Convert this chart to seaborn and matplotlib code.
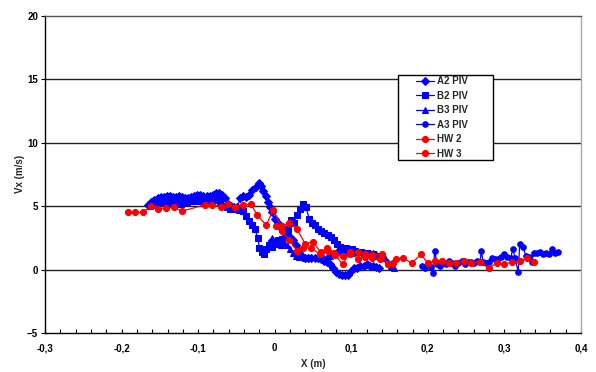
import matplotlib
matplotlib.use("Agg")
import matplotlib.pyplot as plt
import seaborn as sns
from matplotlib.ticker import MultipleLocator, FuncFormatter
from matplotlib.patches import Rectangle

# ---------------- data ----------------
a2_x = [-0.165, -0.161, -0.157, -0.153, -0.149, -0.145, -0.141, -0.137, -0.133, -0.129,
        -0.125, -0.121, -0.117, -0.113, -0.109, -0.105, -0.101, -0.097, -0.093, -0.089,
        -0.085, -0.081, -0.077, -0.073, -0.069, -0.065, -0.061, -0.057, -0.053, -0.049,
        -0.045, -0.041, -0.037, -0.033, -0.029, -0.025, -0.021, -0.018, -0.015, -0.012,
        -0.009, -0.006, -0.003, 0.000, 0.004, 0.008, 0.012, 0.016, 0.020, 0.024,
        0.028, 0.032, 0.036, 0.040, 0.044, 0.048, 0.052, 0.056, 0.060, 0.064,
        0.068, 0.072, 0.076, 0.080, 0.084, 0.088, 0.092, 0.096, 0.100, 0.104,
        0.108, 0.112, 0.116, 0.120, 0.124, 0.128, 0.132, 0.136]
a2_y = [5.1, 5.3, 5.5, 5.6, 5.7, 5.7, 5.8, 5.8, 5.7, 5.7,
        5.8, 5.7, 5.6, 5.6, 5.7, 5.8, 5.9, 5.9, 5.8, 5.8,
        5.8, 5.9, 6.0, 6.0, 5.9, 5.6, 5.2, 5.0, 4.9, 4.9,
        5.6, 5.8, 5.7, 5.9, 6.3, 6.5, 6.8, 6.6, 6.2, 5.8,
        5.3, 4.9, 4.5, 4.0, 3.7, 3.3, 3.1, 2.9, 2.6, 2.3,
        1.9, 1.5, 1.1, 0.9, 0.9, 0.9, 0.9, 0.9, 0.8, 0.7,
        0.6, 0.4, 0.1, -0.2, -0.35, -0.4, -0.45, -0.4, -0.1, 0.1,
        0.1, 0.3, 0.3, 0.4, 0.3, 0.3, 0.2, 0.1]

b2_x = [-0.163, -0.159, -0.155, -0.151, -0.147, -0.143, -0.139, -0.135, -0.131, -0.127,
        -0.123, -0.119, -0.115, -0.111, -0.107, -0.103, -0.099, -0.095, -0.091, -0.087,
        -0.083, -0.079, -0.075, -0.071, -0.067,
        -0.062, -0.058, -0.054, -0.050, -0.046, -0.042, -0.038, -0.034, -0.030, -0.026,
        -0.022, -0.020, -0.017, -0.014, -0.011, -0.007, -0.003, 0.001, 0.005, 0.009,
        0.013, 0.017, 0.021, 0.025, 0.029, 0.033, 0.037, 0.041, 0.045, 0.049,
        0.053, 0.057, 0.061, 0.065, 0.069, 0.073, 0.077, 0.081, 0.085, 0.089,
        0.093, 0.097, 0.101, 0.105, 0.109, 0.113, 0.117, 0.121, 0.125, 0.129,
        0.133, 0.137]
b2_y = [5.0, 5.1, 5.2, 5.3, 5.3, 5.4, 5.4, 5.3, 5.3, 5.3,
        5.2, 5.3, 5.3, 5.4, 5.4, 5.5, 5.4, 5.4, 5.4, 5.5,
        5.6, 5.6, 5.5, 5.3, 5.0,
        4.9, 4.8, 4.8, 4.8, 4.7, 4.6, 4.2, 3.8, 3.5, 3.2,
        2.5, 1.7, 1.4, 1.2, 1.6, 1.9, 1.8, 2.1, 2.3, 2.4,
        2.6, 3.2, 3.9, 3.7, 4.3, 4.8, 5.15, 4.9, 4.0, 3.7,
        3.5, 3.2, 3.0, 2.9, 2.7, 2.6, 2.3, 2.0, 1.8, 1.7,
        1.7, 1.6, 1.6, 1.5, 1.4, 1.4, 1.3, 1.3, 1.2, 1.2,
        1.1, 1.1]

b3_x = [-0.008, -0.004, 0.000, 0.004, 0.008, 0.012, 0.016, 0.020, 0.024, 0.028,
        0.032, 0.036, 0.040, 0.044, 0.048, 0.052, 0.056, 0.060, 0.064, 0.068,
        0.072, 0.076, 0.080, 0.084, 0.088, 0.092, 0.096, 0.100, 0.104, 0.108,
        0.112, 0.116, 0.120, 0.124, 0.128, 0.132, 0.136, 0.140, 0.144, 0.148,
        0.152, 0.156]
b3_y = [2.2, 2.5, 2.3, 2.0, 1.9, 2.1, 1.9, 1.6, 1.3, 1.1,
        1.0, 1.0, 0.9, 1.0, 1.0, 0.95, 1.0, 0.9, 0.9, 1.0,
        1.1, 1.3, 1.4, 1.5, 1.5, 1.4, 1.4, 1.3, 1.4, 1.5,
        1.4, 1.3, 1.3, 1.2, 1.3, 1.2, 1.1, 1.0, 0.9, 0.6,
        0.3, 0.1]

a3_x = [0.192, 0.196, 0.200, 0.204, 0.207, 0.209, 0.212, 0.216, 0.220, 0.224,
        0.228, 0.232, 0.236, 0.240, 0.244, 0.248, 0.252, 0.256, 0.260, 0.264,
        0.268, 0.270, 0.272, 0.276, 0.280, 0.284, 0.288, 0.292, 0.296, 0.300,
        0.304, 0.308, 0.311, 0.314, 0.318, 0.320, 0.324, 0.328, 0.332, 0.336,
        0.338, 0.342, 0.346, 0.350, 0.354, 0.358, 0.362, 0.366, 0.370]
a3_y = [0.3, 0.1, 0.4, 0.2, -0.25, 1.5, 0.4, 0.3, 0.6, 0.4,
        0.7, 0.5, 0.3, 0.5, 0.7, 0.4, 0.6, 0.6, 0.5, 0.7,
        0.6, 1.45, 0.6, 0.5, 0.6, 0.9, 0.8, 0.8, 1.0, 1.2,
        1.0, 0.9, 1.6, 0.9, -0.2, 2.0, 1.8, 1.1, 1.0, 0.6,
        1.3, 1.3, 1.4, 1.2, 1.3, 1.2, 1.6, 1.3, 1.4]

hw2_x = [-0.192, -0.182, -0.172, -0.162, -0.152, -0.142, -0.132, -0.121, -0.091, -0.082,
         -0.070, -0.061, -0.052, -0.041, -0.031, -0.023, -0.011, -0.002, 0.009, 0.019,
         0.029, 0.040, 0.050, 0.060, 0.070, 0.079, 0.089, 0.098, 0.109, 0.118,
         0.127, 0.140, 0.148, 0.158, 0.168, 0.179, 0.191, 0.200, 0.209, 0.218,
         0.227, 0.237, 0.247, 0.257, 0.268, 0.280, 0.290, 0.299, 0.310, 0.320,
         0.329, 0.338]
hw2_y = [4.5, 4.5, 4.5, 5.0, 4.8, 4.85, 4.9, 4.6, 5.1, 5.1,
         4.95, 5.2, 4.9, 5.1, 5.15, 4.3, 3.5, 4.7, 3.4, 3.7,
         3.2, 2.0, 2.2, 1.35, 1.5, 1.15, 1.1, 1.2, 1.4, 1.2,
         1.15, 1.2, 0.45, 0.85, 0.9, 0.5, 1.2, 0.5, 0.7, 0.7,
         0.5, 0.5, 0.65, 0.55, 0.6, 0.15, 0.5, 0.4, 0.6, 0.65,
         0.9, 0.6]

hw3_x = [0.002, 0.009, 0.019, 0.029, 0.037, 0.048, 0.059, 0.068, 0.077, 0.089,
         0.098, 0.109, 0.118, 0.127, 0.138, 0.148, 0.155]
hw3_y = [3.4, 3.0, 2.35, 1.5, 1.7, 1.7, 1.2, 1.7, 1.3, 0.4,
         1.4, 0.85, 1.0, 0.9, 0.8, 0.45, 0.5]

x_ticks = [-0.3, -0.2, -0.1, 0.0, 0.1, 0.2, 0.3, 0.4]
y_ticks = [-5, 0, 5, 10, 15, 20]

# ---------------- style ----------------
sns.set_style("white")
plt.rcParams['font.family'] = ['Liberation Sans', 'DejaVu Sans']

fig = plt.figure(figsize=(5.96, 3.72), dpi=100)
ax = fig.add_axes([0.0755, 1 - 333 / 372, 0.8993, (333 - 15.7) / 372])

for yv in [0, 5, 10, 15]:
    ax.axhline(yv, color='#222222', lw=1.0, zorder=1)

blue = '#0000FF'
red = '#FF0000'
series = [
    (a2_x, a2_y, 'A2 PIV', blue, 'D', 4.0),
    (b2_x, b2_y, 'B2 PIV', blue, 's', 4.0),
    (b3_x, b3_y, 'B3 PIV', blue, '^', 4.4),
    (a3_x, a3_y, 'A3 PIV', blue, 'o', 4.0),
    (hw2_x, hw2_y, 'HW 2', red, 'o', 4.4),
    (hw3_x, hw3_y, 'HW 3', red, 'o', 4.4),
]
for xs, ys, lab, col, mk, ms in series:
    sns.lineplot(x=xs, y=ys, ax=ax, sort=False, estimator=None, label=lab,
                 color=col, marker=mk, markersize=ms, markeredgecolor=col,
                 markerfacecolor=col, linewidth=0.9, zorder=3)

ax.set_xlim(-0.3, 0.4)
ax.set_ylim(-5, 20)
ax.set_xticks(x_ticks)
ax.set_yticks(y_ticks)
ax.xaxis.set_minor_locator(MultipleLocator(0.02))

def fmt_x(v, pos):
    if abs(v) < 1e-9:
        return '0'
    return ('%.1f' % v).replace('.', ',')

ax.xaxis.set_major_formatter(FuncFormatter(fmt_x))
ax.tick_params(axis='y', which='major', direction='out', length=3, width=0.8,
               labelsize=7, colors='black', pad=2, left=True)
ax.tick_params(axis='x', which='both', direction='in', length=3, width=0.8,
               labelsize=7, colors='black', pad=13, bottom=True)
for lbl in ax.get_xticklabels():
    lbl.set_fontweight('bold')
    lbl.set_verticalalignment('baseline')
for lbl in ax.get_yticklabels():
    lbl.set_fontweight('bold')

for side in ['left', 'bottom']:
    ax.spines[side].set_color('black')
    ax.spines[side].set_linewidth(1.0)
ax.spines['top'].set_color('#555555')
ax.spines['top'].set_linewidth(1.0)
ax.spines['right'].set_color('#AAAAAA')
ax.spines['right'].set_linewidth(1.0)

ax.set_xlabel('X (m)', fontsize=7, fontweight='bold', labelpad=4)
ax.set_ylabel('Vx (m/s)', fontsize=7, fontweight='bold', labelpad=1.5)

# legend: frame drawn separately to mimic the wide box of the original
box = Rectangle((398 / 596, 1 - 160 / 372), 95 / 596, 85 / 372,
                transform=fig.transFigure, facecolor='white', edgecolor='black',
                linewidth=1.0, zorder=5, clip_on=False)
ax.add_patch(box)
leg = ax.legend(loc='upper left', bbox_to_anchor=(416 / 596, 1 - 76 / 372),
                bbox_transform=fig.transFigure, fontsize=7, frameon=False,
                handlelength=1.9, labelspacing=0.47, borderpad=0.0,
                handletextpad=0.3, borderaxespad=0.0)
leg.set_zorder(6)
for t in leg.get_texts():
    t.set_fontweight('bold')

fig.savefig('out.png', dpi=100, facecolor='white')
